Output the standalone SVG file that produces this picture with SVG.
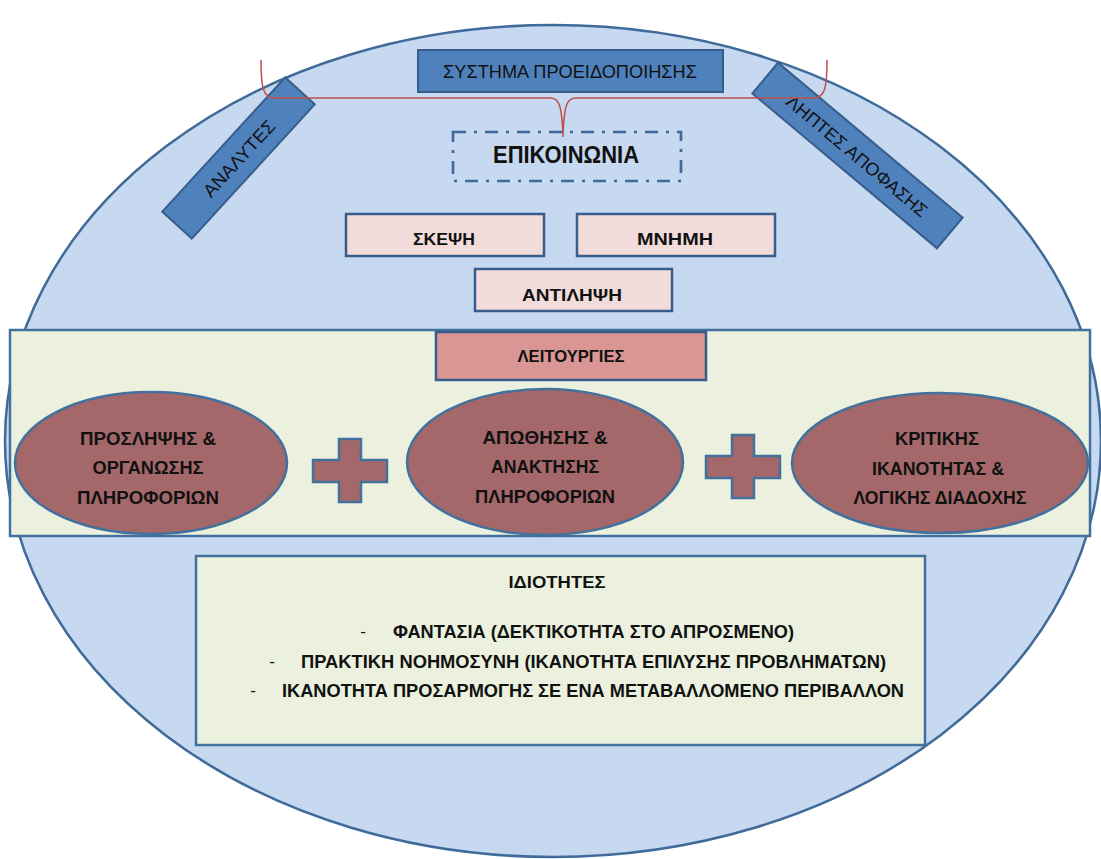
<svg xmlns="http://www.w3.org/2000/svg" width="1101" height="859" viewBox="0 0 1101 859">
<style>
text{font-family:"Liberation Sans",Arial,sans-serif;fill:#111;}
.b{font-weight:bold;}
.blue{fill:#4F81BD;stroke:#385D8A;stroke-width:2;}
.pink{fill:#F2DCDB;stroke:#385D8A;stroke-width:2.5;}
.oval{fill:#A5686A;stroke:#41719C;stroke-width:2.5;}
.green{fill:#EBF1DE;stroke:#41719C;stroke-width:2.5;}
</style>
<rect width="1101" height="859" fill="#fff"/>
<g id="background">
<ellipse cx="553" cy="441" rx="548" ry="416" fill="#C6D9F1" stroke="#3F6A99" stroke-width="2.5"/>
</g>
<g id="analytes" transform="translate(238.5,158) rotate(-47.5)">
<rect class="blue" x="-91" y="-20" width="182" height="40"/>
<text x="0" y="7" font-size="18" text-anchor="middle" textLength="97" lengthAdjust="spacingAndGlyphs">ΑΝΑΛΥΤΕΣ</text>
</g>
<g id="liptes" transform="translate(857.5,155.5) rotate(40)">
<rect class="blue" x="-120.5" y="-20" width="241" height="40"/>
<text x="0" y="7" font-size="18" text-anchor="middle" textLength="178" lengthAdjust="spacingAndGlyphs">ΛΗΠΤΕΣ ΑΠΟΦΑΣΗΣ</text>
</g>
<g id="systima">
<rect class="blue" x="418" y="50" width="305" height="42"/>
<text x="570" y="78" font-size="18" text-anchor="middle" textLength="254" lengthAdjust="spacingAndGlyphs">ΣΥΣΤΗΜΑ ΠΡΟΕΙΔΟΠΟΙΗΣΗΣ</text>
</g>
<g id="connectors">
<path d="M261,60 C261,88 263,98 275,98 L550,98 C558,98 562,102 563,137 C564,102 568,98 576,98 L813,98 C825,98 827,88 827,60" fill="none" stroke="#C0504D" stroke-width="1.5"/>
</g>
<g id="epikoinonia">
<rect x="453" y="132" width="228" height="49" fill="none" stroke="#3F6A99" stroke-width="2.7" stroke-dasharray="13 8 3 8"/>
<text class="b" x="566" y="163" font-size="23" text-anchor="middle" textLength="146" lengthAdjust="spacingAndGlyphs">ΕΠΙΚΟΙΝΩΝΙΑ</text>
</g>
<g id="skepsi">
<rect class="pink" x="346" y="214" width="198" height="42"/>
<text class="b" x="444" y="245" font-size="17" text-anchor="middle" textLength="62" lengthAdjust="spacingAndGlyphs">ΣΚΕΨΗ</text>
</g>
<g id="mnimi">
<rect class="pink" x="577" y="214" width="198" height="42"/>
<text class="b" x="675" y="245" font-size="17" text-anchor="middle" textLength="76" lengthAdjust="spacingAndGlyphs">ΜΝΗΜΗ</text>
</g>
<g id="antilipsi">
<rect class="pink" x="475" y="269" width="197" height="42"/>
<text class="b" x="572" y="301" font-size="17" text-anchor="middle" textLength="100" lengthAdjust="spacingAndGlyphs">ΑΝΤΙΛΗΨΗ</text>
</g>
<g id="band">
<rect class="green" x="10" y="330" width="1080" height="206"/>
</g>
<g id="leitourgies">
<rect x="436" y="332" width="270" height="48" fill="#D99694" stroke="#385D8A" stroke-width="2.5"/>
<text class="b" x="571" y="362" font-size="17" text-anchor="middle" textLength="107" lengthAdjust="spacingAndGlyphs">ΛΕΙΤΟΥΡΓΙΕΣ</text>
</g>
<g id="prosl">
<ellipse class="oval" cx="151" cy="463" rx="136" ry="71"/>
<text class="b" x="148" y="445" font-size="18.5" text-anchor="middle" textLength="136" lengthAdjust="spacingAndGlyphs">ΠΡΟΣΛΗΨΗΣ &amp;</text>
<text class="b" x="148" y="474" font-size="18.5" text-anchor="middle" textLength="111" lengthAdjust="spacingAndGlyphs">ΟΡΓΑΝΩΣΗΣ</text>
<text class="b" x="148" y="504" font-size="18.5" text-anchor="middle" textLength="142" lengthAdjust="spacingAndGlyphs">ΠΛΗΡΟΦΟΡΙΩΝ</text>
</g>
<g id="plus1">
<path class="oval" d="M339,439 H361 V460 H387 V482 H361 V502 H339 V482 H313 V460 H339 Z"/>
</g>
<g id="apoth">
<ellipse class="oval" cx="545" cy="462" rx="138" ry="73"/>
<text class="b" x="545" y="444" font-size="18.5" text-anchor="middle" textLength="125" lengthAdjust="spacingAndGlyphs">ΑΠΩΘΗΣΗΣ &amp;</text>
<text class="b" x="545" y="473" font-size="18.5" text-anchor="middle" textLength="108" lengthAdjust="spacingAndGlyphs">ΑΝΑΚΤΗΣΗΣ</text>
<text class="b" x="545" y="503" font-size="18.5" text-anchor="middle" textLength="140" lengthAdjust="spacingAndGlyphs">ΠΛΗΡΟΦΟΡΙΩΝ</text>
</g>
<g id="plus2">
<path class="oval" d="M732,435 H754 V456 H780 V478 H754 V498 H732 V478 H706 V456 H732 Z"/>
</g>
<g id="kritikis">
<ellipse class="oval" cx="940" cy="463" rx="148" ry="70"/>
<text class="b" x="937" y="445" font-size="18.5" text-anchor="middle" textLength="84" lengthAdjust="spacingAndGlyphs">ΚΡΙΤΙΚΗΣ</text>
<text class="b" x="938" y="475" font-size="18.5" text-anchor="middle" textLength="132" lengthAdjust="spacingAndGlyphs">ΙΚΑΝΟΤΗΤΑΣ &amp;</text>
<text class="b" x="940" y="504" font-size="18.5" text-anchor="middle" textLength="173" lengthAdjust="spacingAndGlyphs">ΛΟΓΙΚΗΣ ΔΙΑΔΟΧΗΣ</text>
</g>
<g id="idiotites">
<rect class="green" x="196" y="556" width="729" height="189"/>
<text class="b" x="557" y="588" font-size="17" text-anchor="middle" textLength="97" lengthAdjust="spacingAndGlyphs">ΙΔΙΟΤΗΤΕΣ</text>
<text x="363" y="637" font-size="17" text-anchor="middle">-</text>
<text class="b" x="393" y="638" font-size="18" textLength="401" lengthAdjust="spacingAndGlyphs">ΦΑΝΤΑΣΙΑ (ΔΕΚΤΙΚΟΤΗΤΑ  ΣΤΟ ΑΠΡΟΣΜΕΝΟ)</text>
<text x="272" y="667" font-size="17" text-anchor="middle">-</text>
<text class="b" x="301" y="668" font-size="18" textLength="585" lengthAdjust="spacingAndGlyphs">ΠΡΑΚΤΙΚΗ ΝΟΗΜΟΣΥΝΗ (ΙΚΑΝΟΤΗΤΑ ΕΠΙΛΥΣΗΣ ΠΡΟΒΛΗΜΑΤΩΝ)</text>
<text x="253" y="696" font-size="17" text-anchor="middle">-</text>
<text class="b" x="282" y="697" font-size="18" textLength="622" lengthAdjust="spacingAndGlyphs">ΙΚΑΝΟΤΗΤΑ ΠΡΟΣΑΡΜΟΓΗΣ ΣΕ ΕΝΑ ΜΕΤΑΒΑΛΛΟΜΕΝΟ ΠΕΡΙΒΑΛΛΟΝ</text>
</g>
</svg>
